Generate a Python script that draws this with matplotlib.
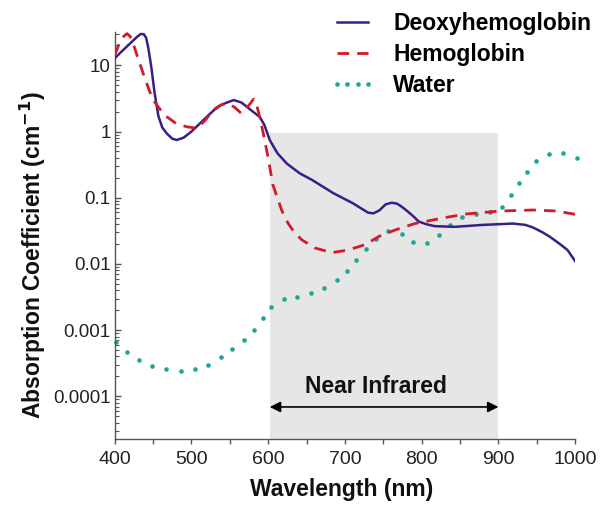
import matplotlib
matplotlib.use("Agg")
import matplotlib.pyplot as plt
from matplotlib.ticker import FixedLocator, FixedFormatter, LogLocator, NullFormatter

plt.rcParams['font.family'] = ['Liberation Sans', 'DejaVu Sans']

# ---- data ----
deoxy_nm = [400, 410, 420, 430, 434, 438, 441, 444, 448, 452, 457, 462, 468, 475, 481, 490,
            500, 510, 520, 530, 540, 555, 565, 572, 580, 589, 595, 602, 612, 624, 641,
            657, 685, 710, 730, 737, 745, 753, 761, 768, 774, 782, 790, 796, 806, 817,
            843, 880, 919, 935, 945, 957, 967, 980, 990, 1000]
deoxy_val = [12.8, 16.6, 21.4, 27.5, 29.8, 29.5, 26.0, 17.8, 8.9, 3.8, 1.7, 1.15, 0.93, 0.78, 0.745, 0.81,
             1.0, 1.29, 1.67, 2.14, 2.57, 2.99, 2.75, 2.37, 2.0, 1.66, 1.26, 0.745, 0.47, 0.33, 0.234,
             0.186, 0.117, 0.083, 0.0596, 0.058, 0.0646, 0.0794, 0.0841, 0.0813, 0.0731, 0.0617, 0.0513, 0.0437, 0.0398, 0.0372,
             0.0363, 0.0389, 0.0407, 0.0389, 0.0355, 0.0302, 0.0257, 0.020, 0.0162, 0.011]

hemo_nm = [400, 405, 410, 416, 420, 424, 430, 437, 445, 450, 460, 468, 480, 494, 507,
           518, 528, 538, 546, 556, 565, 575, 581, 585, 589, 594, 600, 606, 611, 618,
           626, 634, 644, 661, 683, 704, 726, 745, 765, 791, 830, 858, 902, 945, 976, 1000]
hemo_val = [14.3, 20.0, 26.3, 30.2, 27.5, 21.4, 13.2, 7.6, 4.2, 3.0, 2.1, 1.67, 1.32, 1.18, 1.12,
            1.48, 2.11, 2.51, 2.67, 2.34, 1.88, 2.51, 3.09, 2.51, 1.66, 0.89, 0.40, 0.158, 0.107, 0.063,
            0.041, 0.030, 0.023, 0.0174, 0.0148, 0.0162, 0.0195, 0.0263, 0.0324, 0.0407, 0.050, 0.0568, 0.063, 0.0652, 0.063, 0.056]

water_nm = [402, 416, 432, 449, 467, 486, 504, 522, 538, 553, 568, 581, 593, 603, 620,
            638, 656, 673, 690, 703, 715, 727, 741, 756, 774, 789, 807, 823, 837, 852,
            871, 889, 905, 916, 927, 937, 949, 966, 984, 1002]
water_val = [6.5e-4, 4.7e-4, 3.5e-4, 2.9e-4, 2.6e-4, 2.4e-4, 2.6e-4, 2.95e-4, 3.9e-4, 5.1e-4,
             7.1e-4, 1.0e-3, 1.5e-3, 2.2e-3, 2.95e-3, 3.2e-3, 3.6e-3, 4.3e-3, 5.8e-3, 7.9e-3,
             1.15e-2, 1.7e-2, 2.35e-2, 3.1e-2, 2.8e-2, 2.15e-2, 2.05e-2, 2.75e-2, 3.9e-2, 5.1e-2,
             5.7e-2, 6.0e-2, 7.2e-2, 0.11, 0.168, 0.248, 0.363, 0.465, 0.475, 0.40]

series_labels = ['Deoxyhemoglobin', 'Hemoglobin', 'Water']
x_ticks = [400, 500, 600, 700, 800, 900, 1000]
x_tick_labels = ['400', '500', '600', '700', '800', '900', '1000']
y_ticks = [10, 1, 0.1, 0.01, 0.001, 0.0001]
y_tick_labels = ['10', '1', '0.1', '0.01', '0.001', '0.0001']

nir_start, nir_end, nir_top = 602, 900, 0.95
nir_label = 'Near Infrared'

# ---- figure ----
fig = plt.figure(figsize=(6.01, 5.07), dpi=100)
ax = fig.add_axes([114.7 / 601, 1 - 439.3 / 507, 460.5 / 601, 407.3 / 507])

purple = '#3b1d87'
red = '#d6182b'
teal = '#1fa59a'

ax.set_yscale('log')
ax.set_xlim(400, 1000)
ax.set_ylim(2.24e-5, 31.9)

ax.fill_between([nir_start, nir_end], 1e-6, nir_top, color='#e6e6e6', lw=0, zorder=0)

l1, = ax.plot(deoxy_nm, deoxy_val, color=purple, lw=1.8, zorder=3, label=series_labels[0],
              solid_joinstyle='round')
l2, = ax.plot(hemo_nm, hemo_val, color=red, lw=2.0, dashes=(4.2, 2.9), zorder=4,
              label=series_labels[1])
l3, = ax.plot(water_nm, water_val, ls='none', marker='o', ms=2.3, color=teal, mec=teal,
              zorder=2, clip_on=False, label=series_labels[2])

# Arrow and label
ax.annotate('', xy=(nir_start, 6.9e-5), xytext=(nir_end, 6.9e-5),
            arrowprops=dict(arrowstyle='<|-|>', color='black', lw=1.2,
                            mutation_scale=16, shrinkA=0, shrinkB=0))
ax.text(741, 1.4e-4, nir_label, ha='center', va='center', fontsize=16.5,
        fontweight='bold', color='#111111')

# Axes styling
for s in ['top', 'right']:
    ax.spines[s].set_visible(False)
for s in ['left', 'bottom']:
    ax.spines[s].set_color('#555555')
    ax.spines[s].set_linewidth(1.0)

ax.xaxis.set_major_locator(FixedLocator(x_ticks))
ax.xaxis.set_major_formatter(FixedFormatter(x_tick_labels))
ax.xaxis.set_minor_locator(FixedLocator([450, 550, 650, 750, 850, 950]))
ax.tick_params(axis='x', which='both', direction='out', length=3.5, width=1.0,
               color='#555555', labelsize=14, pad=5, labelcolor='#222222')

ax.yaxis.set_major_locator(FixedLocator(y_ticks))
ax.yaxis.set_major_formatter(FixedFormatter(y_tick_labels))
ax.yaxis.set_minor_locator(LogLocator(base=10, subs=[2, 3, 4, 5, 6, 7, 8, 9], numticks=20))
ax.yaxis.set_minor_formatter(NullFormatter())
ax.tick_params(axis='y', which='major', direction='in', length=4, width=1.0,
               color='#555555', labelsize=13.5, pad=3, labelcolor='#222222')
ax.tick_params(axis='y', which='minor', direction='in', length=3, width=0.8,
               color='#555555')

ax.set_xlabel('Wavelength (nm)', fontsize=16.5, fontweight='bold', color='#111111')
ax.xaxis.set_label_coords(0.4925, -0.095)
ax.xaxis.label.set_va('top')
ax.set_ylabel('Absorption Coefficient (cm$^{\\mathbf{-1}}$)', fontsize=16.5,
              fontweight='bold', color='#111111')
ax.yaxis.set_label_coords(-0.145, 0.4525)

fig.legend(handles=[l1, l2, l3], loc='upper left', bbox_to_anchor=(330 / 601, 1 - 12 / 507),
           frameon=False, prop={'weight': 'bold', 'size': 16.5},
           handlelength=1.97, handletextpad=0.79, labelspacing=0.36, borderpad=0,
           borderaxespad=0, numpoints=4)

fig.savefig('out.png', dpi=100)
